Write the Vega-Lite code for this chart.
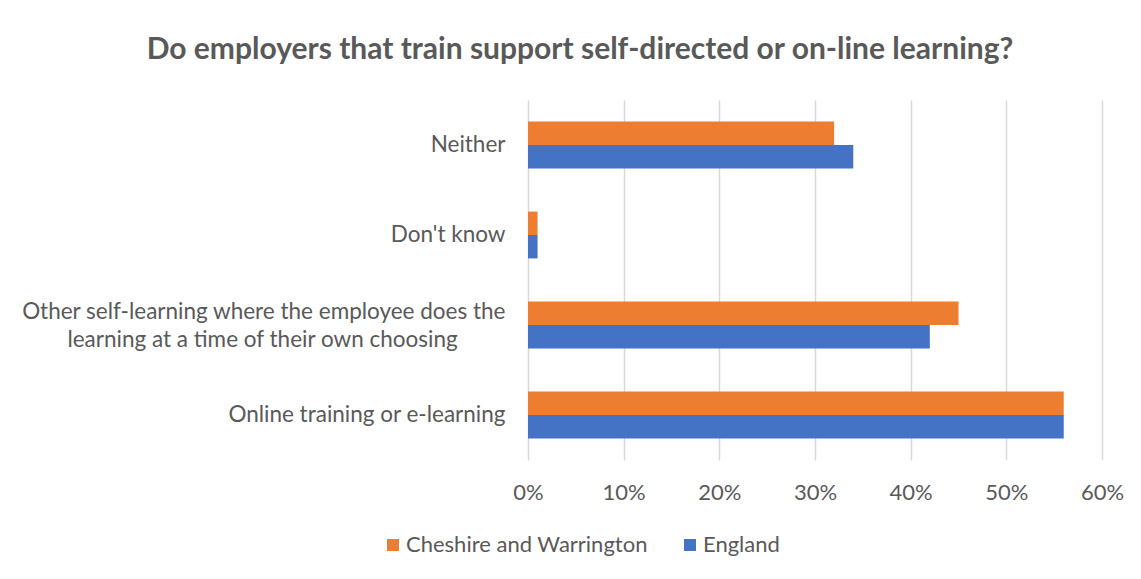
{
  "$schema": "https://vega.github.io/schema/vega-lite/v6.json",
  "width": 574,
  "height": 360,
  "autosize": "none",
  "padding": {"left": 528, "top": 100, "right": 39, "bottom": 119},
  "background": "white",
  "title": {
    "text": "Do employers that train support self-directed or on-line learning?",
    "font": "Lato",
    "fontSize": 30,
    "fontWeight": "bold",
    "color": "#595959",
    "anchor": "middle",
    "frame": "group",
    "dx": -235,
    "offset": 35
  },
  "data": {
    "values": [
      {"category": "Neither", "region": "Cheshire and Warrington", "value": 0.32},
      {"category": "Neither", "region": "England", "value": 0.34},
      {"category": "Don't know", "region": "Cheshire and Warrington", "value": 0.01},
      {"category": "Don't know", "region": "England", "value": 0.01},
      {"category": "Other self-learning where the employee does the learning at a time of their own choosing", "region": "Cheshire and Warrington", "value": 0.45},
      {"category": "Other self-learning where the employee does the learning at a time of their own choosing", "region": "England", "value": 0.42},
      {"category": "Online training or e-learning", "region": "Cheshire and Warrington", "value": 0.56},
      {"category": "Online training or e-learning", "region": "England", "value": 0.56}
    ]
  },
  "mark": {"type": "bar"},
  "encoding": {
    "y": {
      "field": "category",
      "type": "nominal",
      "sort": ["Neither", "Don't know", "Other self-learning where the employee does the learning at a time of their own choosing", "Online training or e-learning"],
      "scale": {"paddingInner": 0.48, "paddingOuter": 0.24},
      "axis": {
        "title": null,
        "ticks": false,
        "domain": false,
        "grid": false,
        "labelFont": "Lato",
        "labelFontSize": 22.5,
        "labelColor": "#595959",
        "labelPadding": 23,
        "labelLimit": 700,
        "labelLineHeight": 28,
        "labelOffset": {"condition": {"test": "length(datum.value) > 60", "value": -13}, "value": 0},
        "labelExpr": "length(datum.value) > 60 ? ['Other self-learning where the employee does the', 'learning at a time of their own choosing\u2003\u2003\u2002\u2009\u2060'] : datum.value"
      }
    },
    "yOffset": {
      "field": "region",
      "type": "nominal",
      "sort": ["Cheshire and Warrington", "England"]
    },
    "x": {
      "field": "value",
      "type": "quantitative",
      "scale": {"domain": [0, 0.6]},
      "axis": {
        "title": null,
        "format": ".0%",
        "values": [0, 0.1, 0.2, 0.3, 0.4, 0.5, 0.6],
        "ticks": false,
        "domain": false,
        "labelFlush": false,
        "gridColor": "#D9D9D9",
        "gridWidth": 1.5,
        "labelFont": "Lato",
        "labelFontSize": 22,
        "labelColor": "#595959",
        "labelPadding": 22
      }
    },
    "color": {
      "field": "region",
      "type": "nominal",
      "scale": {"domain": ["Cheshire and Warrington", "England"], "range": ["#ED7D31", "#4472C4"]},
      "legend": {
        "title": null,
        "orient": "none",
        "direction": "horizontal",
        "legendX": -146,
        "legendY": 434,
        "symbolType": "square",
        "symbolSize": 144,
        "symbolStrokeWidth": 0,
        "labelFont": "Lato",
        "labelFontSize": 22,
        "labelColor": "#595959",
        "labelLimit": 500,
        "labelOffset": 2,
        "columnPadding": 31
      }
    }
  },
  "config": {"view": {"stroke": null}}
}
